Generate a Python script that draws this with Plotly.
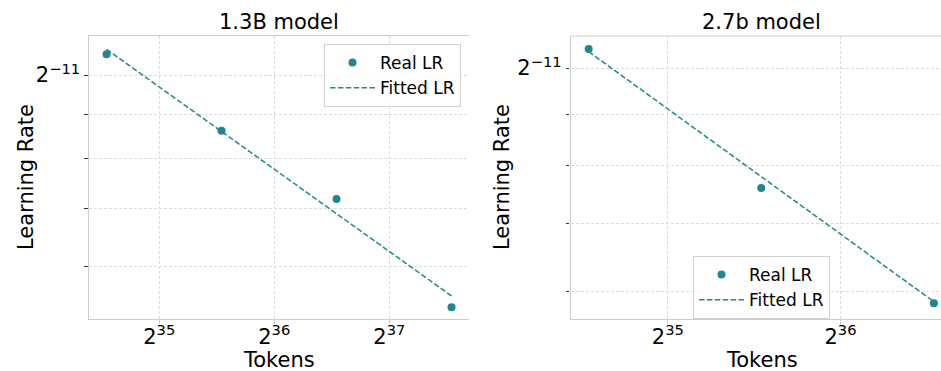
import math
import plotly.graph_objects as go

# ---------------- data ----------------
tokens_13b = [25e9, 50e9, 100e9, 200e9]
real_lr_13b = [5.16e-4, 4.21e-4, 3.51e-4, 2.63e-4]
fitted_lr_13b = [5.23e-4, 4.20e-4, 3.37e-4, 2.71e-4]

tokens_27b = [25e9, 50e9, 100e9]
real_lr_27b = [5.10e-4, 3.71e-4, 2.85e-4]
fitted_lr_27b = [5.07e-4, 3.81e-4, 2.86e-4]

x_tick_exps_13b = [35, 36, 37]
x_tick_exps_27b = [35, 36]
y_major_exp = -11
y_minor_mults = [0.9, 0.8, 0.7, 0.6]

titles = ["1.3B model", "2.7b model"]

# ---------------- style ----------------
W, H = 941, 371
TEAL = "#21878c"
FONT = "DejaVu Sans"
L2 = math.log10(2)


def px_x(p):
    return p / W


def px_y(p):
    return 1 - p / H


fig = go.Figure()

fig.add_trace(go.Scatter(x=tokens_13b, y=real_lr_13b, mode="markers", name="Real LR",
                         marker=dict(color=TEAL, size=8), xaxis="x", yaxis="y", legend="legend"))
fig.add_trace(go.Scatter(x=tokens_13b, y=fitted_lr_13b, mode="lines", name="Fitted LR",
                         line=dict(color=TEAL, width=1.5, dash="5.5px,2.4px"),
                         xaxis="x", yaxis="y", legend="legend"))
fig.add_trace(go.Scatter(x=tokens_27b, y=real_lr_27b, mode="markers", name="Real LR",
                         marker=dict(color=TEAL, size=8), xaxis="x2", yaxis="y2", legend="legend2"))
fig.add_trace(go.Scatter(x=tokens_27b, y=fitted_lr_27b, mode="lines", name="Fitted LR",
                         line=dict(color=TEAL, width=1.5, dash="5.5px,2.4px"),
                         xaxis="x2", yaxis="y2", legend="legend2"))

y_vals = [2.0 ** y_major_exp] + [m * 2.0 ** y_major_exp for m in y_minor_mults]
y_text = [f"2<sup>\u2212{abs(y_major_exp)}</sup>"] + [""] * len(y_minor_mults)

grid = dict(showgrid=True, gridcolor="#dcdcdc", gridwidth=0.8, griddash="3px,2px",
            showline=True, linecolor="#cccccc", linewidth=1.2, zeroline=False)


def xaxis(exps, rng, dom, mirror):
    return dict(type="log", range=[rng[0] * L2, rng[1] * L2], domain=dom,
                tickmode="array", tickvals=[2.0 ** e for e in exps],
                ticktext=[f"2<sup>{e}</sup>" for e in exps],
                ticks="outside", ticklen=4, tickcolor="#cccccc", tickwidth=1,
                ticklabelstandoff=-5,
                tickfont=dict(family=FONT, size=21, color="black"),
                mirror=mirror, **grid)


def yaxis(rng, dom, anchor):
    return dict(type="log", range=[rng[0] * L2, rng[1] * L2], domain=dom, anchor=anchor,
                tickmode="array", tickvals=y_vals, ticktext=y_text,
                ticks="outside", ticklen=3.5, tickcolor="#333333", tickwidth=1,
                tickfont=dict(family=FONT, size=21, color="black"),
                mirror=False, **grid)


ydom = [px_y(319), px_y(36)]
leg = dict(bgcolor="rgba(255,255,255,0.8)", bordercolor="#d0d0d0", borderwidth=1,
           font=dict(family=FONT, size=17, color="black"), tracegroupgap=0, itemwidth=45)
fig.update_layout(
    width=W, height=H,
    margin=dict(l=0, r=0, t=0, b=0),
    paper_bgcolor="white", plot_bgcolor="white",
    font=dict(family=FONT, color="black"),
    xaxis=xaxis(x_tick_exps_13b, [34.389, 37.693], [px_x(89), px_x(469)], True),
    yaxis=yaxis([-11.938, -10.85], ydom, "x"),
    xaxis2=xaxis(x_tick_exps_27b, [34.436, 36.5825], [px_x(570.5), 1.0], False),
    yaxis2=yaxis([-11.829, -10.894], ydom, "x2"),
    legend=dict(x=px_x(461), y=px_y(44), xanchor="right", yanchor="top", **leg),
    legend2=dict(x=px_x(693), y=px_y(256), xanchor="left", yanchor="top", **leg),
)
fig.update_layout(xaxis2_anchor="y2", xaxis_anchor="y")
# top spine for right panel (no right spine visible since it is cut off)
fig.add_shape(type="line", xref="x2 domain", yref="y2 domain", x0=0, x1=1, y0=1, y1=1,
              line=dict(color="#cccccc", width=1.2), layer="above")

ann = dict(showarrow=False, xref="paper", yref="paper", xanchor="center", yanchor="middle",
           font=dict(family=FONT, size=21, color="black"))
fig.add_annotation(x=px_x(279), y=px_y(22), text=titles[0], **ann)
fig.add_annotation(x=px_x(761), y=px_y(22), text=titles[1], **ann)
fig.add_annotation(x=px_x(279), y=px_y(360), text="Tokens", **ann)
fig.add_annotation(x=px_x(762), y=px_y(360), text="Tokens", **ann)
fig.add_annotation(x=px_x(26), y=px_y(177), text="Learning Rate", textangle=-90, **ann)
fig.add_annotation(x=px_x(502), y=px_y(177), text="Learning Rate", textangle=-90, **ann)

fig.write_html("out.html")
